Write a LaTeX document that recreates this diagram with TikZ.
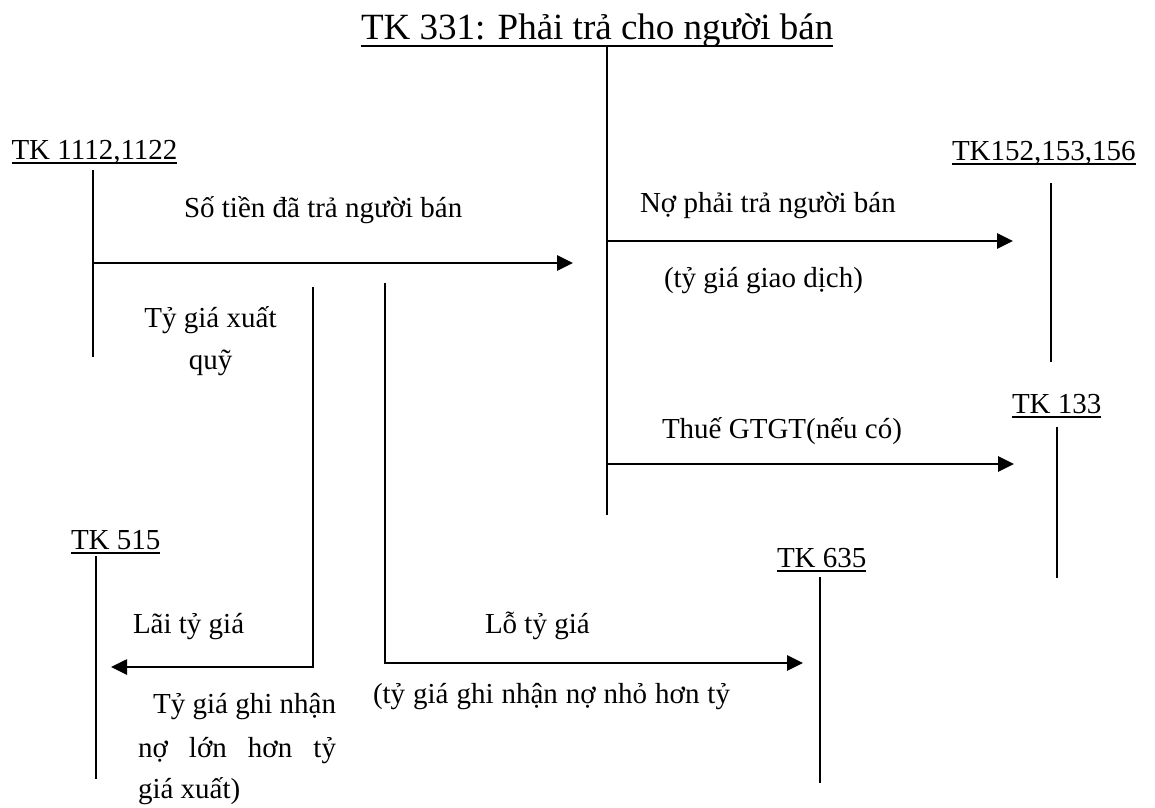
\documentclass[tikz,border=0pt]{standalone}
\usepackage{fontspec}
\setmainfont{Liberation Serif}
\usetikzlibrary{arrows.meta}
\tikzset{
  lbl/.style={inner sep=0pt, outer sep=0pt, anchor=base west, font=\fontsize{29}{35}\selectfont},
  ttl/.style={inner sep=0pt, outer sep=0pt, anchor=base west, font=\fontsize{37}{44}\selectfont},
  uline/.style={line width=1.4pt},
  tline/.style={line width=1.3pt},
  flow/.style={line width=2.7pt, -{Triangle[length=16pt,width=15pt]}},
  bar/.style={line width=2.7pt}
}
\begin{document}
\begin{tikzpicture}[x=1pt, y=-1pt]
\useasboundingbox (0,0) rectangle (1155,807);

% account titles
\node[ttl] (t331) at (361,39) {TK 331: Phải trả cho người bán};
\node[lbl] (t1112) at (11.5,159) {TK 1112,1122};
\node[lbl] (t152) at (952,160) {TK152,153,156};
\node[lbl] (t133) at (1012,413) {TK 133};
\node[lbl] (t515) at (71,549) {TK 515};
\node[lbl] (t635) at (777,567) {TK 635};

% underlines of the titles
\draw[line width=2pt] ([yshift=-7pt]t331.base west) -- ([yshift=-7pt]t331.base east);
\foreach \n in {t1112,t152,t133,t515,t635}
  \draw[uline] ([yshift=-4pt]\n.base west) -- ([yshift=-4pt]\n.base east);

% flow texts
\node[lbl] (paid) at (184,217) {Số tiền đã trả người bán};
\node[lbl, anchor=base] (xq1) at (210.5,327) {Tỷ giá xuất};
\node[lbl, anchor=base] (xq2) at (210.5,369) {quỹ};
\node[lbl] (debt) at (640,212) {Nợ phải trả người bán};
\node[lbl] (gd) at (664,287) {(tỷ giá giao dịch)};
\node[lbl] (vat) at (662,438) {Thuế GTGT(nếu có)};
\node[lbl] (gain) at (133,633) {Lãi tỷ giá};
\node[lbl, anchor=base east] (g1) at (336,713) {Tỷ giá ghi nhận};
\node[lbl] (g2) at (138,757) {\makebox[198pt][s]{nợ lớn hơn tỷ}};
\node[lbl] (g3) at (138,798) {giá xuất)};
\node[lbl] (loss) at (485,633) {Lỗ tỷ giá};
\node[lbl] (l1) at (373,703) {\makebox[357pt][s]{(tỷ giá ghi nhận nợ nhỏ hơn tỷ}};

% T-account stems
\coordinate (c331a) at (607,46);   \coordinate (c331b) at (607,515);
\coordinate (c1112a) at (93,170);  \coordinate (c1112b) at (93,357);
\coordinate (c152a) at (1051,183); \coordinate (c152b) at (1051,362);
\coordinate (c133a) at (1057,427); \coordinate (c133b) at (1057,578);
\coordinate (c515a) at (96,556);   \coordinate (c515b) at (96,779);
\coordinate (c635a) at (820,577);  \coordinate (c635b) at (820,783);
\foreach \a/\b in {c331a/c331b,c1112a/c1112b,c152a/c152b,c133a/c133b,c515a/c515b,c635a/c635b}
  \draw[tline] (\a) -- (\b);

% entries
\coordinate (s1) at (93,263);  \coordinate (e1) at (573,263);
\coordinate (s2) at (607,241); \coordinate (e2) at (1013,241);
\coordinate (s3) at (607,464); \coordinate (e3) at (1014,464);
\draw[flow] (s1) -- (e1);
\draw[flow] (s2) -- (e2);
\draw[flow] (s3) -- (e3);

% exchange gain
\coordinate (ga) at (313,287); \coordinate (gb) at (313,667); \coordinate (gc) at (111,667);
\draw[tline] (ga) -- (gb);
\draw[flow] ([xshift=0.65pt]gb) -- (gc);

% exchange loss
\coordinate (la) at (385,283); \coordinate (lb) at (385,663); \coordinate (lc) at (803,663);
\draw[tline] (la) -- (lb);
\draw[flow] ([xshift=-0.65pt]lb) -- (lc);
\end{tikzpicture}
\end{document}
